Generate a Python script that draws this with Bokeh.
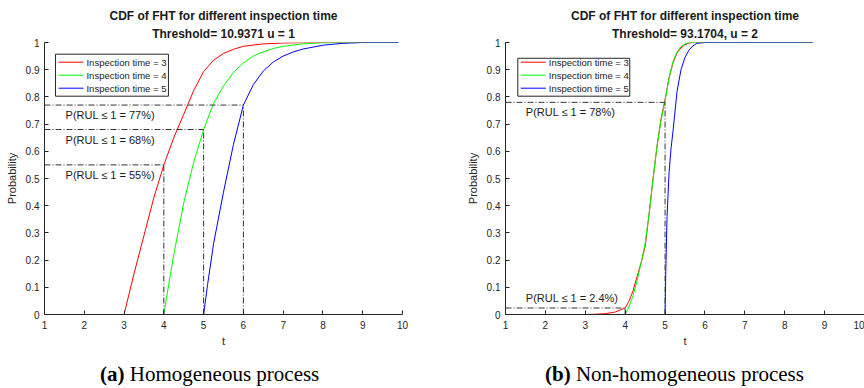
from bokeh.plotting import figure
from bokeh.layouts import row, column
from bokeh.models import Title, FixedTicker, CustomJSTickFormatter, Div
from bokeh.core.properties import value
from bokeh.embed import file_html
from bokeh.resources import INLINE

# ---------------- data ----------------
series_names = ["Inspection time = 3", "Inspection time = 4", "Inspection time = 5"]
series_colors = ["#ff0000", "#00ff00", "#0000ff"]

# (a) Homogeneous process
hom_t3 = [3.0, 3.25, 3.5, 3.75, 4.0, 4.25, 4.5, 4.75, 5.0, 5.25, 5.5, 5.75, 6.0, 6.5, 7.0, 7.5, 8.0, 9.0, 9.9]
hom_p3 = [0.0, 0.15, 0.29, 0.43, 0.55, 0.65, 0.736, 0.823, 0.893, 0.935, 0.96, 0.975, 0.986, 0.995, 0.998, 0.9995, 1.0, 1.0, 1.0]
hom_t4 = [4.0, 4.1, 4.25, 4.5, 4.75, 5.0, 5.25, 5.5, 5.75, 6.0, 6.25, 6.5, 6.75, 7.0, 7.5, 8.0, 8.5, 9.0, 9.9]
hom_p4 = [0.0, 0.09, 0.22, 0.41, 0.56, 0.68, 0.776, 0.84, 0.89, 0.925, 0.95, 0.966, 0.978, 0.986, 0.995, 0.999, 1.0, 1.0, 1.0]
hom_t5 = [5.0, 5.1, 5.25, 5.5, 5.75, 6.0, 6.25, 6.5, 6.75, 7.0, 7.25, 7.5, 8.0, 8.5, 9.0, 9.9]
hom_p5 = [0.0, 0.11, 0.26, 0.45, 0.625, 0.77, 0.845, 0.895, 0.928, 0.95, 0.965, 0.976, 0.99, 0.997, 1.0, 1.0]

hom_mark_t = [4, 5, 6]
hom_mark_p = [0.55, 0.68, 0.77]
hom_mark_text = ["P(RUL \u2264 1 = 55%)", "P(RUL \u2264 1 = 68%)", "P(RUL \u2264 1 = 77%)"]

# (b) Non-homogeneous process
nh_t3 = [3.0, 3.25, 3.5, 3.75, 4.0, 4.1, 4.2, 4.3, 4.4, 4.5, 4.6, 4.7, 4.8, 4.9, 5.0, 5.1, 5.2, 5.3, 5.4, 5.5, 5.6, 5.7, 6.0, 7.0, 8.7]
nh_p3 = [0.0, 0.001, 0.003, 0.009, 0.024, 0.05, 0.088, 0.14, 0.19, 0.25, 0.37, 0.5, 0.62, 0.72, 0.79, 0.87, 0.925, 0.962, 0.98, 0.992, 0.998, 1.0, 1.0, 1.0, 1.0]
nh_t4 = [4.0, 4.1, 4.2, 4.3, 4.4, 4.5, 4.6, 4.7, 4.8, 4.9, 5.0, 5.1, 5.2, 5.3, 5.4, 5.5, 5.6, 6.0, 7.0, 8.7]
nh_p4 = [0.0, 0.03, 0.07, 0.125, 0.19, 0.26, 0.37, 0.5, 0.62, 0.715, 0.785, 0.87, 0.93, 0.965, 0.985, 0.995, 1.0, 1.0, 1.0, 1.0]
nh_t5 = [5.0, 5.02, 5.05, 5.1, 5.15, 5.2, 5.3, 5.4, 5.5, 5.6, 5.7, 5.8, 6.0, 7.0, 8.7]
nh_p5 = [0.0, 0.17, 0.36, 0.52, 0.61, 0.675, 0.82, 0.9, 0.945, 0.972, 0.988, 0.997, 1.0, 1.0, 1.0]

nh_mark_t = [5, 4]
nh_mark_p = [0.78, 0.024]
nh_mark_text = ["P(RUL \u2264 1 = 78%)", "P(RUL \u2264 1 = 2.4%)"]

x_ticks = [1, 2, 3, 4, 5, 6, 7, 8, 9, 10]
y_ticks = [0, 0.1, 0.2, 0.3, 0.4, 0.5, 0.6, 0.7, 0.8, 0.9, 1]

title_line1 = "CDF of FHT for different inspection time"
hom_title2 = "Threshold= 10.9371 u = 1"
nh_title2 = "Threshold= 93.1704, u = 2"
hom_caption = ("(a)", "Homogeneous process")
nh_caption = ("(b)", "Non-homogeneous process")

SANS = "Liberation Sans"
AX = "#262626"
DASH = "6 2 1 2"

# legend rows (probability level of each row centre) inside the axes
legend_rows_y = [0.9276, 0.8798, 0.832]


def make_panel(width, border_left, border_right, curves, marks, title2,
               label_x, label_dy, leg_box, leg_line_x, leg_text_x):
    p = figure(width=width, height=350, x_range=(1, 10), y_range=(0, 1),
               output_backend="svg", toolbar_location=None, title=None,
               min_border_left=border_left, min_border_right=border_right,
               min_border_top=42, min_border_bottom=36)
    p.outline_line_color = None
    p.grid.visible = False
    p.background_fill_color = "white"
    p.border_fill_color = "white"

    for ax in (p.xaxis[0], p.yaxis[0]):
        ax.axis_line_color = AX
        ax.major_tick_line_color = AX
        ax.minor_tick_line_color = None
        ax.major_tick_in = 4
        ax.major_tick_out = 0
        ax.major_label_text_font = SANS
        ax.major_label_text_font_size = "10px"
        ax.major_label_text_color = AX
        ax.axis_label_text_font = SANS
        ax.axis_label_text_font_size = "11px"
        ax.axis_label_text_font_style = "normal"
        ax.axis_label_text_color = AX
    p.xaxis.ticker = FixedTicker(ticks=x_ticks)
    p.yaxis.ticker = FixedTicker(ticks=y_ticks)
    p.yaxis.formatter = CustomJSTickFormatter(code="return tick.toFixed(1).replace(/\\.0$/, '');")
    p.xaxis.axis_label = "t"
    p.yaxis.axis_label = "Probability"
    p.xaxis.major_label_standoff = 6
    p.xaxis.axis_label_standoff = 3
    p.yaxis.major_label_standoff = 5
    p.yaxis.axis_label_standoff = 5

    for (tx, px), col in zip(curves, series_colors):
        p.line(tx, px, line_color=col, line_width=1)

    mt, mp, mtext = marks
    n = len(mt)
    p.segment(x0=[1] * n, y0=mp, x1=mt, y1=mp, line_color="#333333",
              line_width=1, line_dash=DASH)
    p.segment(x0=mt, y0=[0] * n, x1=mt, y1=mp, line_color="#333333",
              line_width=1, line_dash=DASH)
    ty = [pp + d for pp, d in zip(mp, label_dy)]
    p.text(x=[label_x] * n, y=ty, text=mtext, text_font=value(SANS),
           text_font_size="11px", text_color="#1a1a1a",
           text_align="left", text_baseline="middle")

    # legend box (drawn with glyphs)
    lx0, lx1, ly0, ly1 = leg_box
    p.quad(left=[lx0], right=[lx1], bottom=[ly0], top=[ly1],
           fill_color="white", line_color=AX, line_width=1)
    nl = len(series_names)
    p.segment(x0=[leg_line_x[0]] * nl, x1=[leg_line_x[1]] * nl,
              y0=legend_rows_y, y1=legend_rows_y,
              line_color=series_colors, line_width=1)
    p.text(x=[leg_text_x] * nl, y=legend_rows_y, text=series_names,
           text_font=value(SANS), text_font_size="9.5px", text_color="#1a1a1a",
           text_align="left", text_baseline="middle")

    p.add_layout(Title(text=title2, align="center", text_font=SANS,
                       text_font_size="12px", text_font_style="bold",
                       text_color="#1a1a1a", standoff=3), "above")
    p.add_layout(Title(text=title_line1, align="center", text_font=SANS,
                       text_font_size="12px", text_font_style="bold",
                       text_color="#1a1a1a", standoff=2), "above")
    return p


def make_caption(width, pad_left, caption):
    html = ('<div style="padding-left:%dpx;padding-top:12px;white-space:nowrap;'
            'font-family:\'Liberation Serif\';font-size:21px;line-height:24px;color:black">'
            '<b>%s</b> %s</div>' % (pad_left, caption[0], caption[1]))
    return Div(text=html, width=width, height=38, margin=0)


p1 = make_panel(450, 44, 48,
                [(hom_t3, hom_p3), (hom_t4, hom_p4), (hom_t5, hom_p5)],
                (hom_mark_t, hom_mark_p, hom_mark_text),
                hom_title2, 1.53, [-0.038, -0.039, -0.038],
                (1.276, 4.116, 0.8026, 0.957), (1.352, 1.98), 2.055)
p2 = make_panel(414, 55, 0,
                [(nh_t3, nh_p3), (nh_t4, nh_p4), (nh_t5, nh_p5)],
                (nh_mark_t, nh_mark_p, nh_mark_text),
                nh_title2, 1.51, [-0.036, 0.0385],
                (1.308, 4.115, 0.8026, 0.942), (1.383, 2.01), 2.085)

c1 = make_caption(450, 100, hom_caption)
c2 = make_caption(414, 95, nh_caption)

layout = column(row(p1, p2), row(c1, c2), spacing=0)
open("out.html", "w").write(file_html(layout, INLINE))
